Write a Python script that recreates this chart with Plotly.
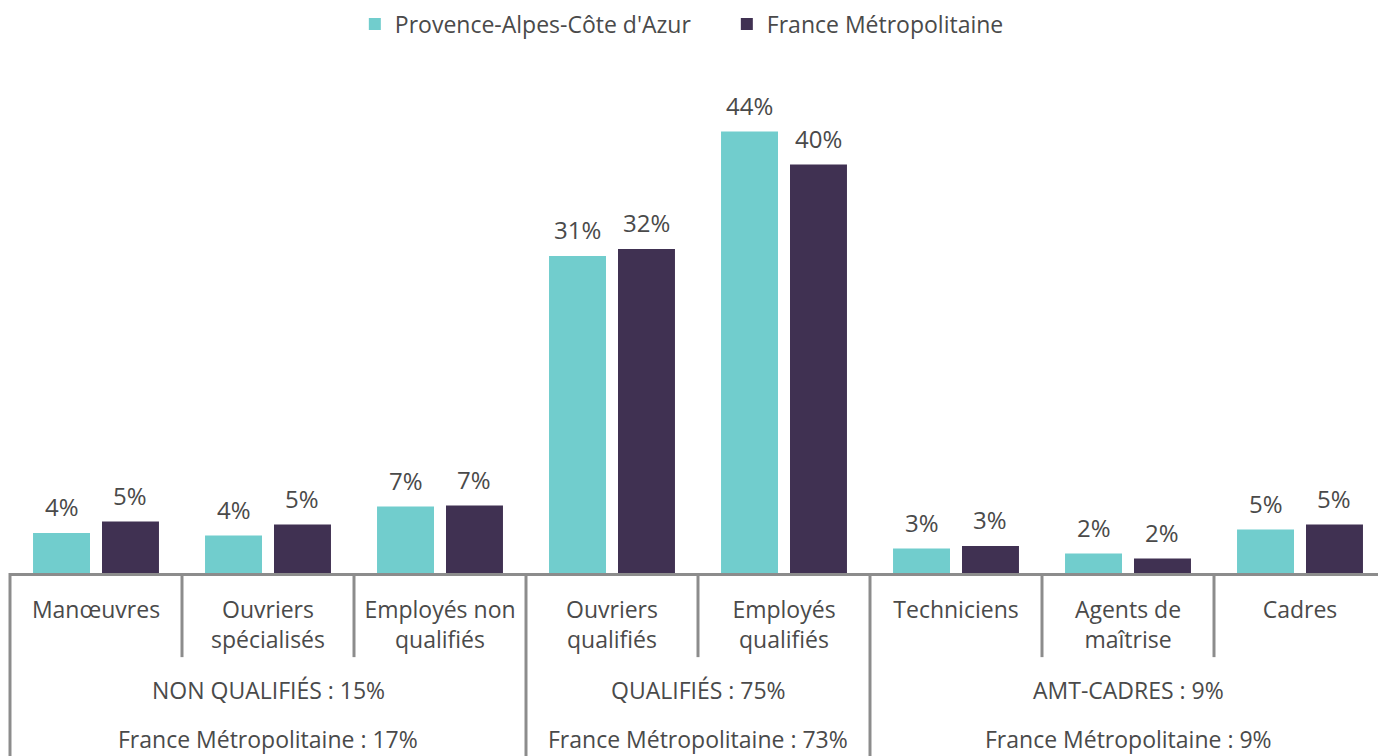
import plotly.graph_objects as go

categories = ["Manœuvres", "Ouvriers<br>spécialisés", "Employés non<br>qualifiés",
              "Ouvriers<br>qualifiés", "Employés<br>qualifiés", "Techniciens",
              "Agents de<br>maîtrise", "Cadres"]
paca_values = [4.0, 3.75, 6.65, 31.7, 44.15, 2.45, 1.95, 4.35]
france_values = [5.15, 4.85, 6.75, 32.4, 40.85, 2.7, 1.45, 4.85]
paca_labels = ["4%", "4%", "7%", "31%", "44%", "3%", "2%", "5%"]
france_labels = ["5%", "5%", "7%", "32%", "40%", "3%", "2%", "5%"]
series_names = ["Provence-Alpes-Côte d'Azur", "France Métropolitaine"]
group_titles = ["NON QUALIFIÉS : 15%", "QUALIFIÉS : 75%", "AMT-CADRES : 9%"]
group_france = ["France Métropolitaine : 17%", "France Métropolitaine : 73%", "France Métropolitaine : 9%"]
group_members = [[0, 1, 2], [3, 4], [5, 6, 7]]

TEAL = "#71CDCD"
PURPLE = "#403152"
TEXT = "#4a4a4a"
LINE = "#8c8c8c"
FONT = "Open Sans"

BARGAP = 0.198
GROUPGAP = 0.174
X_RANGE = [-0.5, 7.4535]
Y_MAX = 51.3

fig = go.Figure()
fig.add_trace(go.Bar(x=categories, y=paca_values, name=series_names[0],
                     marker=dict(color=TEAL, line=dict(width=0))))
fig.add_trace(go.Bar(x=categories, y=france_values, name=series_names[1],
                     marker=dict(color=PURPLE, line=dict(width=0))))

annotations = []
slot = (1 - BARGAP) / 2
for vals, labs, sign in [(paca_values, paca_labels, -1), (france_values, france_labels, 1)]:
    for i, (v, t) in enumerate(zip(vals, labs)):
        annotations.append(dict(x=i + sign * slot / 2, y=v, xref="x", yref="y", text=t,
                                showarrow=False, yanchor="bottom", yshift=8,
                                font=dict(family=FONT, size=24, color=TEXT)))

shapes = []
group_edges = set()
for g in group_members:
    group_edges.add(g[-1] + 0.5)
for i in range(len(categories) - 1):
    pos = i + 0.5
    long = pos in group_edges
    shapes.append(dict(type="line", xref="x", yref="paper", x0=pos, x1=pos,
                       y0=0, y1=-0.36 if long else -0.164,
                       line=dict(color=LINE, width=3)))
shapes.append(dict(type="line", xref="paper", yref="paper", x0=0, x1=0,
                   y0=0, y1=-0.36, line=dict(color=LINE, width=3)))

for members, t1, t2 in zip(group_members, group_titles, group_france):
    cx = (members[0] + members[-1]) / 2
    annotations.append(dict(x=cx, y=-0.228, xref="x", yref="paper", text=t1,
                            showarrow=False, yanchor="middle",
                            font=dict(family=FONT, size=23, color=TEXT)))
    annotations.append(dict(x=cx, y=-0.3245, xref="x", yref="paper", text=t2,
                            showarrow=False, yanchor="middle",
                            font=dict(family=FONT, size=23, color=TEXT)))

fig.update_layout(
    width=1378, height=756,
    margin=dict(l=10, r=0, t=60, b=183),
    paper_bgcolor="white", plot_bgcolor="white",
    barmode="group", bargap=BARGAP, bargroupgap=GROUPGAP,
    font=dict(family=FONT, color=TEXT, size=23),
    showlegend=True,
    legend=dict(orientation="h", x=0.524, xanchor="center", y=1.07, yanchor="middle",
                font=dict(family=FONT, size=23, color=TEXT), bgcolor="rgba(0,0,0,0)",
                itemwidth=30, entrywidth=327),
    xaxis=dict(range=X_RANGE, showline=True, linecolor=LINE, linewidth=3,
               ticks="outside", ticklen=14, tickcolor="rgba(0,0,0,0)",
               tickfont=dict(family=FONT, size=23, color=TEXT), showgrid=False,
               fixedrange=True),
    yaxis=dict(range=[0, Y_MAX], visible=False, showgrid=False, zeroline=False),
    annotations=annotations, shapes=shapes,
)

fig.write_html("out.html")
